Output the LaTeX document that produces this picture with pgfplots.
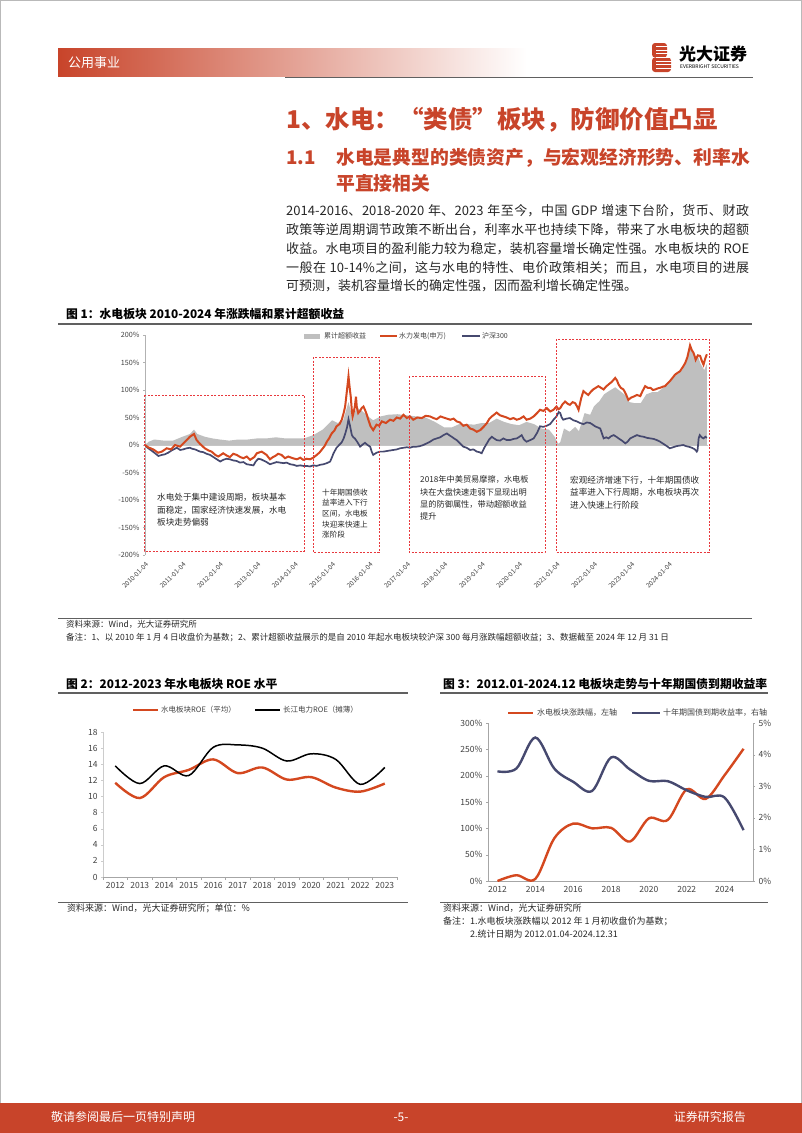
\documentclass[border=0pt]{standalone}
\usepackage{fontspec}
\setmainfont{Noto Sans CJK SC}
\usepackage{pgfplots}
\pgfplotsset{compat=1.18}
\XeTeXlinebreaklocale "zh"
\XeTeXlinebreakskip=0pt plus 1pt

\definecolor{hred}{HTML}{C8442A}
\definecolor{lred}{HTML}{D4481F}
\definecolor{navy}{HTML}{46496F}
\definecolor{agray}{HTML}{BFBFBF}
\definecolor{boxred}{HTML}{E8383D}
\definecolor{txt}{HTML}{262626}
\definecolor{tick}{HTML}{404040}
\newcommand{\fs}[2]{\fontsize{#1}{#2}\selectfont}

\begin{document}
\begin{tikzpicture}
\useasboundingbox (0pt,0pt) rectangle (802pt,-1133pt);
\begin{scope}[x=1pt,y=1pt]
% page frame
\draw[gray!55, line width=1] (0.5,-0.5) rectangle (801.5,-1132.5);
% header
\shade[left color=hred, right color=white] (58,-48) rectangle (527,-76);
\node[anchor=west, inner sep=0, text=white, font=\fs{13}{14}] at (68,-63) {公用事业};
\draw[gray!75!black, line width=1.6] (285,-77.5) -- (753,-77.5);
% logo
\fill[hred, rounded corners=3] (652,-43) rectangle (667,-57.5);
\fill[hred, rounded corners=3] (652,-57.5) rectangle (671,-72);
\foreach \yy in {46.5,50,53.5,57.5,61,64.5,68} \draw[white, line width=0.7] (656,-\yy) -- (673,-\yy);
\node[anchor=west, inner sep=0, font=\fs{17}{18}\bfseries] at (679,-54) {光大证券};
\node[anchor=west, inner sep=0, font=\fs{5}{6}] at (680,-67) {EVERBRIGHT SECURITIES};
% headings
\node[anchor=west, inner sep=0, text=hred, font=\fs{24.5}{26}\bfseries] at (286,-120) {1、水电：“类债”板块，防御价值凸显};
\node[anchor=west, inner sep=0, text=hred, font=\fs{18.8}{20}\bfseries] at (286,-158) {1.1};
\node[anchor=west, inner sep=0, text=hred, font=\fs{18.8}{20}\bfseries] at (336,-158) {水电是典型的类债资产，与宏观经济形势、利率水};
\node[anchor=west, inner sep=0, text=hred, font=\fs{18.8}{20}\bfseries] at (336,-183) {平直接相关};
% body
\node[anchor=north west, inner sep=0, text width=463pt, align=justify, text=txt, font=\fs{13}{18.8}] at (286,-204.5) {2014-2016、2018-2020 年、2023 年至今，中国 GDP 增速下台阶，货币、财政\linebreak 政策等逆周期调节政策不断出台，利率水平也持续下降，带来了水电板块的超额\linebreak 收益。水电项目的盈利能力较为稳定，装机容量增长确定性强。水电板块的 ROE\linebreak 一般在 10-14\%之间，这与水电的特性、电价政策相关；而且，水电项目的进展\linebreak 可预测，装机容量增长的确定性强，因而盈利增长确定性强。};
% figure 1 title
\node[anchor=west, inner sep=0, font=\fs{11.8}{14}\bfseries] at (66,-314) {图 1：水电板块 2010-2024 年涨跌幅和累计超额收益};
\draw[gray!75!black, line width=1.3] (58,-324) -- (752,-324);
\draw[gray!75!black, line width=0.8] (58,-618) -- (752,-618);
\node[anchor=west, inner sep=0, text=txt, font=\fs{8.5}{10}] at (66,-624.5) {资料来源：Wind，光大证券研究所};
\node[anchor=west, inner sep=0, text=txt, font=\fs{8.5}{10}] at (66,-637.5) {备注：1、以 2010 年 1 月 4 日收盘价为基数；2、累计超额收益展示的是自 2010 年起水电板块较沪深 300 每月涨跌幅超额收益；3、数据截至 2024 年 12 月 31 日};
% figure 1 legend
\fill[agray] (304,-333.5) rectangle (320,-338.5);
\node[anchor=west, inner sep=0, text=tick, font=\fs{7}{8}] at (324,-336) {累计超额收益};
\draw[lred, line width=2] (380,-336) -- (397,-336);
\node[anchor=west, inner sep=0, text=tick, font=\fs{7}{8}] at (399,-336) {水力发电(申万)};
\draw[navy, line width=2] (462,-336) -- (480,-336);
\node[anchor=west, inner sep=0, text=tick, font=\fs{7}{8}] at (482,-336) {沪深300};
% figure 2 / 3 titles and notes
\node[anchor=west, inner sep=0, font=\fs{11.8}{14}\bfseries] at (66,-684) {图 2：2012-2023 年水电板块 ROE 水平};
\node[anchor=west, inner sep=0, font=\fs{11.8}{14}\bfseries] at (443,-684) {图 3：2012.01-2024.12 电板块走势与十年期国债到期收益率};
\draw[gray!75!black, line width=1.3] (58,-693) -- (408,-693);
\draw[gray!75!black, line width=1.3] (440,-693) -- (768,-693);
\draw[gray!75!black, line width=0.8] (58,-902) -- (408,-902);
\draw[gray!75!black, line width=0.8] (440,-902) -- (768,-902);
\node[anchor=west, inner sep=0, text=txt, font=\fs{9}{10}] at (67,-908.5) {资料来源：Wind，光大证券研究所；单位：\%};
\node[anchor=west, inner sep=0, text=txt, font=\fs{9}{10}] at (443,-908.5) {资料来源：Wind，光大证券研究所};
\node[anchor=west, inner sep=0, text=txt, font=\fs{9}{10}] at (443,-921.5) {备注：1.水电板块涨跌幅以 2012 年 1 月初收盘价为基数；};
\node[anchor=west, inner sep=0, text=txt, font=\fs{9}{10}] at (470,-934.5) {2.统计日期为 2012.01.04-2024.12.31};
% figure 2 legend
\draw[lred, line width=2.5] (133,-710) -- (158,-710);
\node[anchor=west, inner sep=0, text=tick, font=\fs{7.5}{8}] at (161,-710) {水电板块ROE（平均）};
\draw[black, line width=1.5] (255,-710) -- (280,-710);
\node[anchor=west, inner sep=0, text=tick, font=\fs{7.5}{8}] at (283,-710) {长江电力ROE（摊薄）};
% figure 3 legend
\draw[lred, line width=2.5] (508,-713) -- (533,-713);
\node[anchor=west, inner sep=0, text=tick, font=\fs{8}{9}] at (537,-713) {水电板块涨跌幅，左轴};
\draw[navy, line width=2.5] (632,-713) -- (660,-713);
\node[anchor=west, inner sep=0, text=tick, font=\fs{8}{9}] at (663,-713) {十年期国债到期收益率，右轴};
% footer
\fill[hred] (0,-1103) rectangle (802,-1133);
\node[anchor=west, inner sep=0, text=white, font=\fs{12}{13}] at (51,-1117) {敬请参阅最后一页特别声明};
\node[inner sep=0, text=white, font=\fs{12}{13}] at (401,-1117) {-5-};
\node[anchor=east, inner sep=0, text=white, font=\fs{12}{13}] at (746,-1117) {证券研究报告};
\end{scope}

% ---------- figure 1 ----------
\begin{axis}[
  at={(145pt,-555pt)}, anchor=south west,
  scale only axis, width=563pt, height=220pt,
  xmin=2010, xmax=2025.05, ymin=-200, ymax=200,
  axis y line*=left, axis x line*=bottom,
  x axis line style={draw=none},
  y axis line style={draw=gray!60, line width=0.5pt},
  ytick={-200,-150,...,200},
  yticklabels={-200\%,-150\%,-100\%,-50\%,0\%,50\%,100\%,150\%,200\%},
  xtick={2010.01,2011.01,2012.01,2013.01,2014.01,2015.01,2016.01,2017.01,2018.01,2019.01,2020.01,2021.01,2022.01,2023.01,2024.01},
  xticklabels={2010-01-04,2011-01-04,2012-01-04,2013-01-04,2014-01-04,2015-01-04,2016-01-04,2017-01-04,2018-01-04,2019-01-04,2020-01-04,2021-01-04,2022-01-04,2023-01-04,2024-01-04},
  x tick label style={rotate=45, anchor=north east, font=\fs{6.5}{7}, text=tick},
  y tick label style={font=\fs{7.2}{8}, text=tick},
  major x tick style={draw=none},
  y tick style={gray!60},
  major tick length=2pt, tick align=outside,
  extra y ticks={0}, extra y tick labels={},
  extra y tick style={grid=major, major grid style={gray!45, line width=0.4pt}, major tick length=0pt},
]
\addplot[fill=agray, draw=none] coordinates {
(2010.00,0) (2010.10,6) (2010.25,10) (2010.50,8) (2010.75,8) (2011.00,15) (2011.20,20) (2011.31,28) (2011.40,20)
(2011.60,15) (2011.80,12) (2012.00,10) (2012.25,8) (2012.50,10) (2012.75,10) (2013.00,12) (2013.25,12)
(2013.50,14) (2013.75,12) (2014.00,12) (2014.25,12) (2014.50,18) (2014.75,28) (2014.90,38) (2015.00,45)
(2015.15,40) (2015.30,45) (2015.44,78) (2015.55,50) (2015.66,68) (2015.80,62) (2016.00,50) (2016.10,45)
(2016.30,52) (2016.50,55) (2016.75,56) (2017.00,54) (2017.25,52) (2017.50,50) (2017.75,42) (2018.00,32)
(2018.20,32) (2018.40,38) (2018.60,38) (2018.80,37) (2019.00,40) (2019.20,40) (2019.40,48) (2019.60,42)
(2019.80,38) (2020.00,36) (2020.20,42) (2020.40,38) (2020.60,30) (2020.80,28) (2020.95,15) (2021.05,2)
(2021.10,5) (2021.20,30) (2021.35,24) (2021.50,33) (2021.60,25) (2021.75,58) (2021.90,55) (2022.00,70)
(2022.15,80) (2022.27,92) (2022.40,98) (2022.57,105) (2022.70,98) (2022.85,90) (2022.95,78) (2023.10,76)
(2023.25,76) (2023.40,92) (2023.55,96) (2023.70,96) (2023.85,104) (2024.00,115) (2024.20,128) (2024.35,135)
(2024.45,150) (2024.57,175) (2024.70,160) (2024.77,163) (2024.85,148) (2024.95,136) (2025.02,148)
} \closedcycle;
\addplot[navy, line width=1.7pt] coordinates {
(2010.00,0) (2010.07,-5) (2010.13,-8) (2010.25,-14) (2010.36,-20) (2010.45,-18) (2010.53,-17) (2010.62,-14)
(2010.71,-10) (2010.85,-5) (2010.94,-9) (2011.02,-8) (2011.11,-6) (2011.20,-5) (2011.27,-7) (2011.34,-8)
(2011.47,-12) (2011.56,-13) (2011.65,-16) (2011.74,-18) (2011.83,-22) (2011.92,-26) (2012.01,-30) (2012.09,-27)
(2012.18,-25) (2012.27,-26) (2012.36,-28) (2012.45,-29) (2012.54,-32) (2012.63,-31) (2012.72,-35) (2012.81,-36)
(2012.90,-37) (2012.96,-30) (2013.03,-25) (2013.10,-26) (2013.16,-28) (2013.25,-31) (2013.34,-35) (2013.43,-33)
(2013.52,-31) (2013.61,-32) (2013.70,-33) (2013.79,-32) (2013.88,-35) (2013.97,-36) (2014.06,-38) (2014.15,-37)
(2014.23,-38) (2014.32,-38) (2014.41,-39) (2014.50,-37) (2014.59,-38) (2014.68,-36) (2014.77,-35) (2014.86,-33)
(2014.95,-30) (2015.00,-22) (2015.04,-15) (2015.12,-5) (2015.19,0) (2015.26,5) (2015.31,12) (2015.35,20)
(2015.40,32) (2015.44,47) (2015.48,35) (2015.53,18) (2015.57,14) (2015.61,12) (2015.68,5) (2015.75,-3)
(2015.82,1) (2015.88,4) (2015.95,0) (2016.02,-3) (2016.06,-12) (2016.10,-18) (2016.19,-14) (2016.28,-12)
(2016.37,-12) (2016.46,-11) (2016.55,-10) (2016.64,-9) (2016.73,-8) (2016.82,-6) (2016.91,-5) (2017.00,-4)
(2017.08,-5) (2017.17,-3) (2017.26,-3) (2017.35,-2) (2017.44,0) (2017.53,3) (2017.62,6) (2017.71,10)
(2017.80,12) (2017.89,14) (2017.98,18) (2018.07,21) (2018.13,18) (2018.20,15) (2018.26,12) (2018.33,9)
(2018.42,3) (2018.51,-3) (2018.60,-5) (2018.69,-9) (2018.78,-8) (2018.87,-12) (2018.94,-13) (2019.00,-15)
(2019.07,-5) (2019.14,3) (2019.20,10) (2019.27,15) (2019.33,12) (2019.40,9) (2019.49,8) (2019.58,12)
(2019.67,9) (2019.76,9) (2019.85,11) (2019.94,12) (2020.01,15) (2020.07,18) (2020.13,10) (2020.20,6)
(2020.30,9) (2020.39,12) (2020.48,22) (2020.56,34) (2020.65,33) (2020.74,35) (2020.83,38) (2020.92,46)
(2021.00,52) (2021.06,60) (2021.10,58) (2021.14,50) (2021.18,46) (2021.27,48) (2021.36,49) (2021.45,45)
(2021.54,43) (2021.63,40) (2021.72,38) (2021.81,41) (2021.90,40) (2021.97,37) (2022.03,34) (2022.10,32)
(2022.17,30) (2022.21,22) (2022.26,12) (2022.33,14) (2022.39,12) (2022.46,16) (2022.53,18) (2022.60,15)
(2022.66,12) (2022.75,8) (2022.84,3) (2022.90,6) (2022.97,12) (2023.06,15) (2023.15,18) (2023.24,16)
(2023.33,15) (2023.42,13) (2023.51,12) (2023.60,11) (2023.68,9) (2023.77,6) (2023.86,2) (2023.95,-2)
(2024.03,-6) (2024.12,-4) (2024.21,-2) (2024.30,-1) (2024.39,0) (2024.46,-2) (2024.53,-3) (2024.62,-5)
(2024.70,-8) (2024.75,-12) (2024.77,-10) (2024.80,12) (2024.83,18) (2024.88,14) (2024.93,12) (2024.98,15)
(2025.02,13)
};
\addplot[lred, line width=2pt] coordinates {
(2010.00,0) (2010.08,-4) (2010.22,-8) (2010.35,-14) (2010.45,-12) (2010.58,-6) (2010.70,-8) (2010.80,0)
(2010.94,-3) (2011.07,6) (2011.20,15) (2011.31,20) (2011.38,9) (2011.47,2) (2011.60,-6) (2011.70,-10)
(2011.78,-12) (2011.88,-18) (2011.96,-21) (2012.09,-15) (2012.18,-19) (2012.27,-22) (2012.36,-16) (2012.45,-18)
(2012.55,-22) (2012.63,-24) (2012.72,-21) (2012.81,-27) (2012.92,-22) (2012.99,-15) (2013.12,-12) (2013.25,-18)
(2013.34,-26) (2013.42,-22) (2013.48,-20) (2013.56,-16) (2013.65,-18) (2013.74,-24) (2013.83,-21) (2013.95,-24)
(2014.06,-26) (2014.15,-23) (2014.23,-27) (2014.32,-25) (2014.41,-26) (2014.50,-23) (2014.59,-18) (2014.66,-14)
(2014.72,-9) (2014.80,-2) (2014.86,6) (2014.92,12) (2014.99,21) (2015.06,26) (2015.12,34) (2015.20,38)
(2015.26,46) (2015.31,58) (2015.35,70) (2015.40,100) (2015.44,125) (2015.47,105) (2015.50,88) (2015.53,62)
(2015.55,52) (2015.58,60) (2015.61,70) (2015.64,88) (2015.66,70) (2015.70,58) (2015.75,62) (2015.79,67)
(2015.84,70) (2015.88,64) (2015.93,55) (2015.97,46) (2016.03,34) (2016.10,27) (2016.19,37) (2016.26,35)
(2016.33,43) (2016.44,40) (2016.55,46) (2016.64,44) (2016.73,50) (2016.82,48) (2016.91,55) (2017.00,49)
(2017.08,52) (2017.17,46) (2017.28,50) (2017.40,49) (2017.50,53) (2017.62,52) (2017.71,49) (2017.80,47)
(2017.90,52) (2017.98,50) (2018.07,48) (2018.16,46) (2018.25,48) (2018.33,43) (2018.42,41) (2018.51,35)
(2018.60,37) (2018.69,30) (2018.78,28) (2018.87,24) (2018.96,27) (2019.05,33) (2019.14,40) (2019.20,47)
(2019.27,52) (2019.33,55) (2019.40,59) (2019.49,54) (2019.58,52) (2019.67,50) (2019.76,47) (2019.85,49)
(2019.94,46) (2020.03,48) (2020.12,52) (2020.20,46) (2020.30,48) (2020.39,52) (2020.48,58) (2020.56,64)
(2020.65,62) (2020.74,67) (2020.83,61) (2020.92,64) (2021.00,70) (2021.05,65) (2021.10,67) (2021.16,74)
(2021.23,79) (2021.30,75) (2021.36,73) (2021.43,78) (2021.50,76) (2021.55,70) (2021.59,64) (2021.66,85)
(2021.72,98) (2021.79,94) (2021.85,91) (2021.92,97) (2021.98,101) (2022.05,104) (2022.12,107) (2022.19,104)
(2022.26,101) (2022.32,106) (2022.39,110) (2022.48,115) (2022.57,122) (2022.62,117) (2022.66,110) (2022.72,104)
(2022.79,101) (2022.86,92) (2022.92,82) (2022.99,86) (2023.06,88) (2023.15,91) (2023.24,89) (2023.30,98)
(2023.37,107) (2023.44,104) (2023.51,104) (2023.58,100) (2023.64,101) (2023.71,103) (2023.77,104) (2023.84,106)
(2023.90,107) (2023.97,112) (2024.03,116) (2024.10,122) (2024.17,128) (2024.23,131) (2024.30,134) (2024.37,141)
(2024.44,149) (2024.50,160) (2024.57,181) (2024.62,172) (2024.66,168) (2024.70,160) (2024.72,155) (2024.78,163)
(2024.84,162) (2024.89,152) (2024.93,146) (2024.98,158) (2025.02,165)
};
\end{axis}

% annotation boxes of figure 1
\begin{scope}[x=1pt,y=1pt]
\tikzset{ann/.style={draw=boxred, line width=0.8pt, dash pattern=on 2pt off 1.5pt}}
\draw[ann] (144,-395) rectangle (304,-551);
\draw[ann] (313,-357) rectangle (379,-552);
\draw[ann] (409,-376) rectangle (545,-552);
\draw[ann] (556,-339) rectangle (709,-552);
\node[anchor=north west, inner sep=0, align=left, text=txt, font=\fs{8.6}{12.6}] at (157,-493) {水电处于集中建设周期，板块基本\\面稳定，国家经济快速发展，水电\\板块走势偏弱};
\node[anchor=north west, inner sep=0, align=left, text=txt, font=\fs{7.6}{10.7}] at (322,-488.5) {十年期国债收\\益率进入下行\\区间，水电板\\块迎来快速上\\涨阶段};
\node[anchor=north west, inner sep=0, align=left, text=txt, font=\fs{8.2}{12.4}] at (420,-475.5) {2018年中美贸易摩擦，水电板\\块在大盘快速走弱下显现出明\\显的防御属性，带动超额收益\\提升};
\node[anchor=north west, inner sep=0, align=left, text=txt, font=\fs{8.6}{12.5}] at (570,-475.5) {宏观经济增速下行，十年期国债收\\益率进入下行周期，水电板块再次\\进入快速上行阶段};
\end{scope}

% ---------- figure 2 ----------
\begin{axis}[
  at={(103pt,-877pt)}, anchor=south west,
  scale only axis, width=294pt, height=145pt,
  xmin=2011.5, xmax=2023.5, ymin=0, ymax=18,
  axis x line*=bottom, axis y line*=left,
  x axis line style={draw=gray!70, line width=0.6pt},
  y axis line style={draw=gray!40, line width=0.5pt},
  xtick={2012,2013,2014,2015,2016,2017,2018,2019,2020,2021,2022,2023},
  xticklabels={2012,2013,2014,2015,2016,2017,2018,2019,2020,2021,2022,2023},
  major x tick style={draw=none},
  minor xtick={2011.5,2012.5,2013.5,2014.5,2015.5,2016.5,2017.5,2018.5,2019.5,2020.5,2021.5,2022.5,2023.5},
  minor x tick style={gray!70}, minor tick length=3pt,
  ytick={0,2,4,6,8,10,12,14,16,18},
  yticklabels={0,2,4,6,8,10,12,14,16,18},
  y tick style={gray!40},
  major tick length=2pt, tick align=outside,
  tick label style={font=\fs{8.5}{9}, text=tick},
]
\addplot[lred, line width=2.4pt, smooth, tension=0.55] coordinates {
(2012,11.7) (2013,9.8) (2014,12.4) (2015,13.3) (2016,14.6) (2017,12.9) (2018,13.6) (2019,12.1) (2020,12.4) (2021,11.1) (2022,10.6) (2023,11.6)
};
\addplot[black, line width=1.5pt, smooth, tension=0.55] coordinates {
(2012,13.8) (2013,11.6) (2014,13.8) (2015,12.6) (2016,16.1) (2017,16.4) (2018,16.0) (2019,14.4) (2020,15.3) (2021,14.6) (2022,11.5) (2023,13.6)
};
\end{axis}

% ---------- figure 3 ----------
\begin{axis}[
  at={(488pt,-881pt)}, anchor=south west,
  scale only axis, width=265pt, height=158pt,
  xmin=2011.5, xmax=2025.5, ymin=0, ymax=300,
  axis x line*=bottom, axis y line*=left,
  x axis line style={draw=gray!70, line width=0.6pt},
  y axis line style={draw=gray!70, line width=0.5pt},
  xtick={2012,2014,2016,2018,2020,2022,2024},
  xticklabels={2012,2014,2016,2018,2020,2022,2024},
  major x tick style={draw=none},
  ytick={0,50,100,150,200,250,300},
  yticklabels={0\%,50\%,100\%,150\%,200\%,250\%,300\%},
  y tick style={gray!70},
  major tick length=2pt, tick align=outside,
  tick label style={font=\fs{8.5}{9}, text=tick},
]
\addplot[lred, line width=2.4pt, smooth, tension=0.55] coordinates {
(2012,0) (2013,11) (2014,4) (2015,81) (2016,109) (2017,100) (2018,101) (2019,75) (2020,119) (2021,116) (2022,174) (2023,156) (2024,201) (2025,251)
};
\end{axis}
\begin{axis}[
  at={(488pt,-881pt)}, anchor=south west,
  scale only axis, width=265pt, height=158pt,
  xmin=2011.5, xmax=2025.5, ymin=0, ymax=5,
  axis y line*=right, axis x line=none,
  y axis line style={draw=gray!70, line width=0.5pt},
  ytick={0,1,2,3,4,5},
  yticklabels={0\%,1\%,2\%,3\%,4\%,5\%},
  y tick style={gray!70},
  major tick length=2pt, tick align=outside,
  tick label style={font=\fs{8.5}{9}, text=tick},
]
\addplot[navy, line width=2.4pt, smooth, tension=0.55] coordinates {
(2012,3.47) (2013,3.56) (2014,4.54) (2015,3.56) (2016,3.14) (2017,2.85) (2018,3.91) (2019,3.53) (2020,3.17) (2021,3.16) (2022,2.87) (2023,2.66) (2024,2.64) (2025,1.61)
};
\end{axis}
\end{tikzpicture}
\end{document}
